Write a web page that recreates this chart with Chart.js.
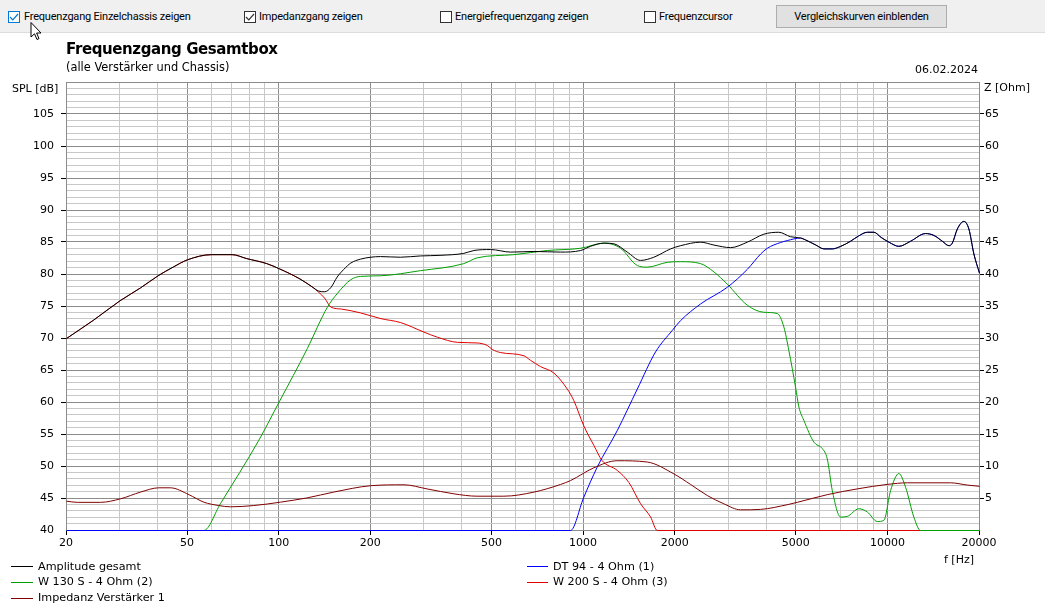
<!DOCTYPE html>
<html><head><meta charset="utf-8">
<script src="https://cdn.jsdelivr.net/npm/chart.js@4.4.1/dist/chart.umd.min.js"></script>
<style>
html,body{margin:0;padding:0;background:#fff;width:1045px;height:610px;overflow:hidden;}
#wrap{position:relative;width:1045px;height:610px;}
#toolbar{position:absolute;left:0;top:0;width:1045px;height:32px;background:#f0f0f0;border-bottom:1px solid #dcdcdc;}
.cb{position:absolute;top:11px;width:10px;height:10px;border:1px solid #333;background:#fff;}
.cb svg{position:absolute;left:0;top:0}
.tl{position:absolute;top:11px;font-family:Roboto,"Liberation Sans",sans-serif;font-size:11px;line-height:11px;letter-spacing:-0.2px;color:#000;white-space:nowrap;}
#btn{position:absolute;left:776px;top:5px;width:171px;height:23px;box-sizing:border-box;border:1px solid #adadad;background:#e1e1e1;font-family:Roboto,"Liberation Sans",sans-serif;font-size:11px;letter-spacing:-0.2px;line-height:21px;text-align:center;color:#000;}
.t{position:absolute;font-family:"DejaVu Sans",sans-serif;color:#000;white-space:nowrap;}
canvas{position:absolute;left:0;top:0;}
.lg{position:absolute;height:1px;}
</style>
</head><body>
<div id="wrap">
<canvas id="c" width="1045" height="610"></canvas>
<div id="toolbar">
  <div class="cb" style="left:8px;border-color:#0078d7"><svg width="10" height="10"><polyline points="1,5 3.8,7.8 9,2" fill="none" stroke="#0078d7" stroke-width="1.2"/></svg></div>
  <span class="tl" style="left:24px">Frequenzgang Einzelchassis zeigen</span>
  <div class="cb" style="left:244px"><svg width="10" height="10"><polyline points="1,5 3.8,7.8 9,2" fill="none" stroke="#333" stroke-width="1.2"/></svg></div>
  <span class="tl" style="left:259px">Impedanzgang zeigen</span>
  <div class="cb" style="left:440px"></div>
  <span class="tl" style="left:455px">Energiefrequenzgang zeigen</span>
  <div class="cb" style="left:644px"></div>
  <span class="tl" style="left:659px">Frequenzcursor</span>
  <div id="btn">Vergleichskurven einblenden</div>
</div>
<svg style="position:absolute;left:30px;top:22px" width="13" height="19"><path d="M1,0.5 L1,15 L4.5,11.8 L7,17.5 L9,16.6 L6.6,11 L11,11 Z" fill="#fff" stroke="#000" stroke-width="1"/></svg>

<div class="t" style="left:66px;top:42px;font-size:15px;line-height:15px;font-weight:bold;letter-spacing:-0.4px">Frequenzgang Gesamtbox</div>
<div class="t" style="left:66px;top:62px;font-size:11.4px;line-height:11.4px">(alle Verstärker und Chassis)</div>
<div class="t" style="left:915px;top:63.5px;font-size:11px;line-height:11px">06.02.2024</div>
<div class="t" style="left:12px;top:83px;font-size:11px;line-height:11px">SPL [dB]</div>
<div class="t" style="left:984px;top:82px;font-size:11px;line-height:11px">Z [Ohm]</div>
<div class="t" style="left:944px;top:554px;font-size:11px;line-height:11px">f [Hz]</div>

<div class="lg" style="left:11px;top:566px;width:22px;background:#000"></div>
<div class="t" style="left:38px;top:560.5px;font-size:11.2px;line-height:11.2px">Amplitude gesamt</div>
<div class="lg" style="left:11px;top:582px;width:22px;background:#00a000"></div>
<div class="t" style="left:38px;top:576px;font-size:11.2px;line-height:11.2px">W 130 S - 4 Ohm (2)</div>
<div class="lg" style="left:11px;top:598px;width:22px;background:#800000"></div>
<div class="t" style="left:38px;top:592px;font-size:11.2px;line-height:11.2px">Impedanz Verstärker 1</div>
<div class="lg" style="left:527px;top:566px;width:21px;background:#0000ff"></div>
<div class="t" style="left:553px;top:560.5px;font-size:11.2px;line-height:11.2px">DT 94 - 4 Ohm (1)</div>
<div class="lg" style="left:527px;top:582px;width:21px;background:#e00000"></div>
<div class="t" style="left:553px;top:576px;font-size:11.2px;line-height:11.2px">W 200 S - 4 Ohm (3)</div>
</div>

<script>
// ---------------- DATA ----------------
const ampFreq = [20,24.6,30,35,40,45,50,60,70,78,91,100,117,128,135,141,148,155,163,172,185,200,215,250,291,340,404,436,495,576,687,840,978,1054,1166,1258,1392,1539,1702,1932,2084,2424,2682,3042,3452,3913,4383,4788,5166,5365,5800,6162,6566,7000,7541,8000,8557,8995,9500,10079,10868,11872,13302,14170,15098,15870,16282,16911,17777,18458,19170,20000];
const ampSPL  = [70.0,72.9,75.9,77.9,79.8,81.2,82.3,83.1,83.1,82.5,81.7,80.9,79.3,78.1,77.4,77.3,78.0,79.6,80.8,81.8,82.4,82.7,82.8,82.7,82.9,83.0,83.3,83.75,83.9,83.5,83.6,83.5,83.75,84.4,84.9,84.8,83.5,82.2,82.7,84.0,84.5,85.05,84.6,84.2,85.05,86.3,86.6,85.9,85.7,85.4,84.6,84.0,84.0,84.4,85.2,86.0,86.6,86.6,85.8,85.05,84.4,85.2,86.4,86.1,85.2,84.5,84.9,87.1,88.3,87.1,83.2,80.2];

const dtFreq = [20,906,1000,1109,1290,1502,1724,1956,2084,2424,2966,3452,3818,4016,4440,4670,5166,5365,5800,6162,6566,7000,7541,8000,8557,8995,9500,10079,10868,11872,13302,14170,15098,15870,16282,16911,17777,18458,19170,20000];
const dtSPL  = [40,40,45.1,49.9,55.6,62.1,67.9,71.25,72.8,75.4,78.0,80.8,83.2,84.1,85.0,85.3,85.7,85.4,84.6,84.0,84.0,84.4,85.2,86.0,86.6,86.6,85.8,85.05,84.4,85.2,86.4,86.1,85.2,84.5,84.9,87.1,88.3,87.1,83.2,80.2];

const w130Freq = [20,56.5,64.1,85.7,100,123.6,144,155,172,185,215,291,404,447,590,760,978,1166,1323,1502,1619,1884,2084,2424,2682,2966,3452,3913,4331,4552,4728,4973,5100,5296,5713,6088,6321,6566,6992,7354,8031,8557,9232,9704,10208,10868,11434,12171,12805,20000];
const w130SPL  = [40,40,44.2,54.1,60.1,68.4,74.9,77.0,79.2,79.7,79.8,80.6,81.7,82.6,83.1,83.75,84.1,84.9,84.1,81.4,81.15,81.9,82.0,81.7,80.4,78.5,75.2,74.1,73.9,71.8,68.1,62.4,59.3,57.2,53.8,52.8,51.2,46.25,42.1,42.2,43.4,42.9,41.4,41.6,46.25,48.9,46.75,42.1,40,40];

const w200Freq = [20,24.6,30,35,40,45,50,60,70,78,91,100,117,128,135,141,148,160,185,216,250,299,331,385,447,483,501,534,637,669,723,799,884,929,1001,1081,1152,1290,1409,1539,1661,1747,20000];
const w200SPL  = [70.0,72.9,75.9,77.9,79.8,81.2,82.3,83.1,83.1,82.5,81.7,80.9,79.3,78.1,77.2,76.3,74.9,74.6,74.0,73.1,72.5,71.0,70.2,69.4,69.3,68.9,68.3,67.8,67.3,66.6,65.6,64.6,62.1,60.3,56.4,53.3,50.9,49.4,47.5,44.2,42.1,40,40];

const impFreq = [20,21.7,25.9,30.1,35,40.2,43.9,50.5,56.5,63.3,69.2,82.5,101,123.6,151,200,257,306,375,447,547,687,840,906,1081,1290,1619,1980,2248,2550,2891,3280,3818,4700,5038,6321,7934,9955,11578,16070,18240,20000];
const impOhm  = [4.58,4.4,4.4,4.95,6.0,6.67,6.67,5.6,4.43,3.9,3.7,3.9,4.43,5.1,6.0,7.0,7.14,6.5,5.73,5.36,5.36,6.0,7.19,7.8,9.8,10.9,10.7,8.85,7.19,5.47,4.17,3.23,3.3,4.06,4.4,5.6,6.5,7.2,7.45,7.45,7.1,6.9];

const xGridValues  = [20,30,40,50,60,70,80,90,100,200,300,400,500,600,700,800,900,1000,2000,3000,4000,5000,6000,7000,8000,9000,10000,20000];
const xLabelValues = [20,50,100,200,500,1000,2000,5000,10000,20000];
const xMajorValues = [20,50,100,200,500,1000,2000,5000,10000,20000];
const splMin = 40, splMax = 110;
const ohmMin = 0, ohmMax = 70;

// --------------- CHART ----------------
const pts = (xs, ys) => xs.map((x, i) => ({x: x, y: ys[i]}));
const range = (a, b, s) => { const r = []; for (let v = a; v <= b; v += s) r.push(v); return r; };

Chart.defaults.font.family = '"DejaVu Sans", sans-serif';
Chart.defaults.font.size = 11;
Chart.defaults.color = '#000';

const crispLines = {
  id: 'crispLines',
  beforeDatasetsDraw(chart) { chart.ctx.save(); chart.ctx.translate(0.5, 0.5); },
  afterDatasetsDraw(chart) { chart.ctx.restore(); }
};

const ds = (label, data, color, axis) => ({label, data, borderColor: color, yAxisID: axis, clip: false, cubicInterpolationMode: 'monotone'});

new Chart(document.getElementById('c'), {
  type: 'line',
  plugins: [crispLines],
  data: {
    datasets: [
      ds('Amplitude gesamt', pts(ampFreq, ampSPL), '#000000', 'y'),
      ds('Impedanz Verstärker 1', pts(impFreq, impOhm), '#800000', 'z'),
      ds('DT 94 - 4 Ohm (1)', pts(dtFreq, dtSPL), '#0000ff', 'y'),
      ds('W 130 S - 4 Ohm (2)', pts(w130Freq, w130SPL), '#00a000', 'y'),
      ds('W 200 S - 4 Ohm (3)', pts(w200Freq, w200SPL), '#e00000', 'y')
    ]
  },
  options: {
    responsive: false,
    animation: false,
    devicePixelRatio: 1,
    layout: {padding: {top: 82, left: 0, right: 0, bottom: 0}},
    plugins: {legend: {display: false}, tooltip: {enabled: false}},
    elements: {point: {radius: 0}, line: {borderWidth: 1, tension: 0, fill: false}},
    scales: {
      x: {
        type: 'logarithmic', min: 20, max: 20000,
        afterBuildTicks: s => { s.ticks = xGridValues.map(v => ({value: v})); },
        afterFit: s => { s.height = 80; },
        ticks: {autoSkip: false, maxRotation: 0, padding: 2,
          callback: v => xLabelValues.includes(v) ? String(v) : ''},
        grid: {
          color: c => xMajorValues.includes(c.tick.value) ? '#8c8c8c' : '#c8c8c8',
          tickColor: c => xLabelValues.includes(c.tick.value) ? '#000' : 'rgba(0,0,0,0)',
          tickLength: 5
        },
        border: {color: '#8c8c8c'}
      },
      y: {
        position: 'left', min: splMin, max: splMax,
        afterBuildTicks: s => { s.ticks = range(splMin, splMax, 1).map(v => ({value: v})); },
        afterFit: s => { s.width = 66; },
        ticks: {autoSkip: false, padding: 7,
          callback: v => (v % 5 === 0 && v < splMax) ? String(v) : ''},
        grid: {
          color: c => c.tick.value % 5 === 0 ? '#8c8c8c' : '#c8c8c8',
          tickColor: c => (c.tick.value % 5 === 0 && c.tick.value > splMin && c.tick.value < splMax) ? '#000' : 'rgba(0,0,0,0)',
          tickLength: 5
        },
        border: {color: '#8c8c8c'}
      },
      z: {
        position: 'right', min: ohmMin, max: ohmMax,
        afterBuildTicks: s => { s.ticks = range(ohmMin, ohmMax, 5).map(v => ({value: v})); },
        afterFit: s => { s.width = 66; },
        ticks: {autoSkip: false, padding: 1,
          callback: v => (v > ohmMin && v < ohmMax) ? String(v) : ''},
        grid: {
          drawOnChartArea: false,
          tickColor: c => (c.tick.value > ohmMin && c.tick.value < ohmMax) ? '#000' : 'rgba(0,0,0,0)',
          tickLength: 5
        },
        border: {color: '#8c8c8c'}
      }
    }
  }
});
</script>
</body></html>
